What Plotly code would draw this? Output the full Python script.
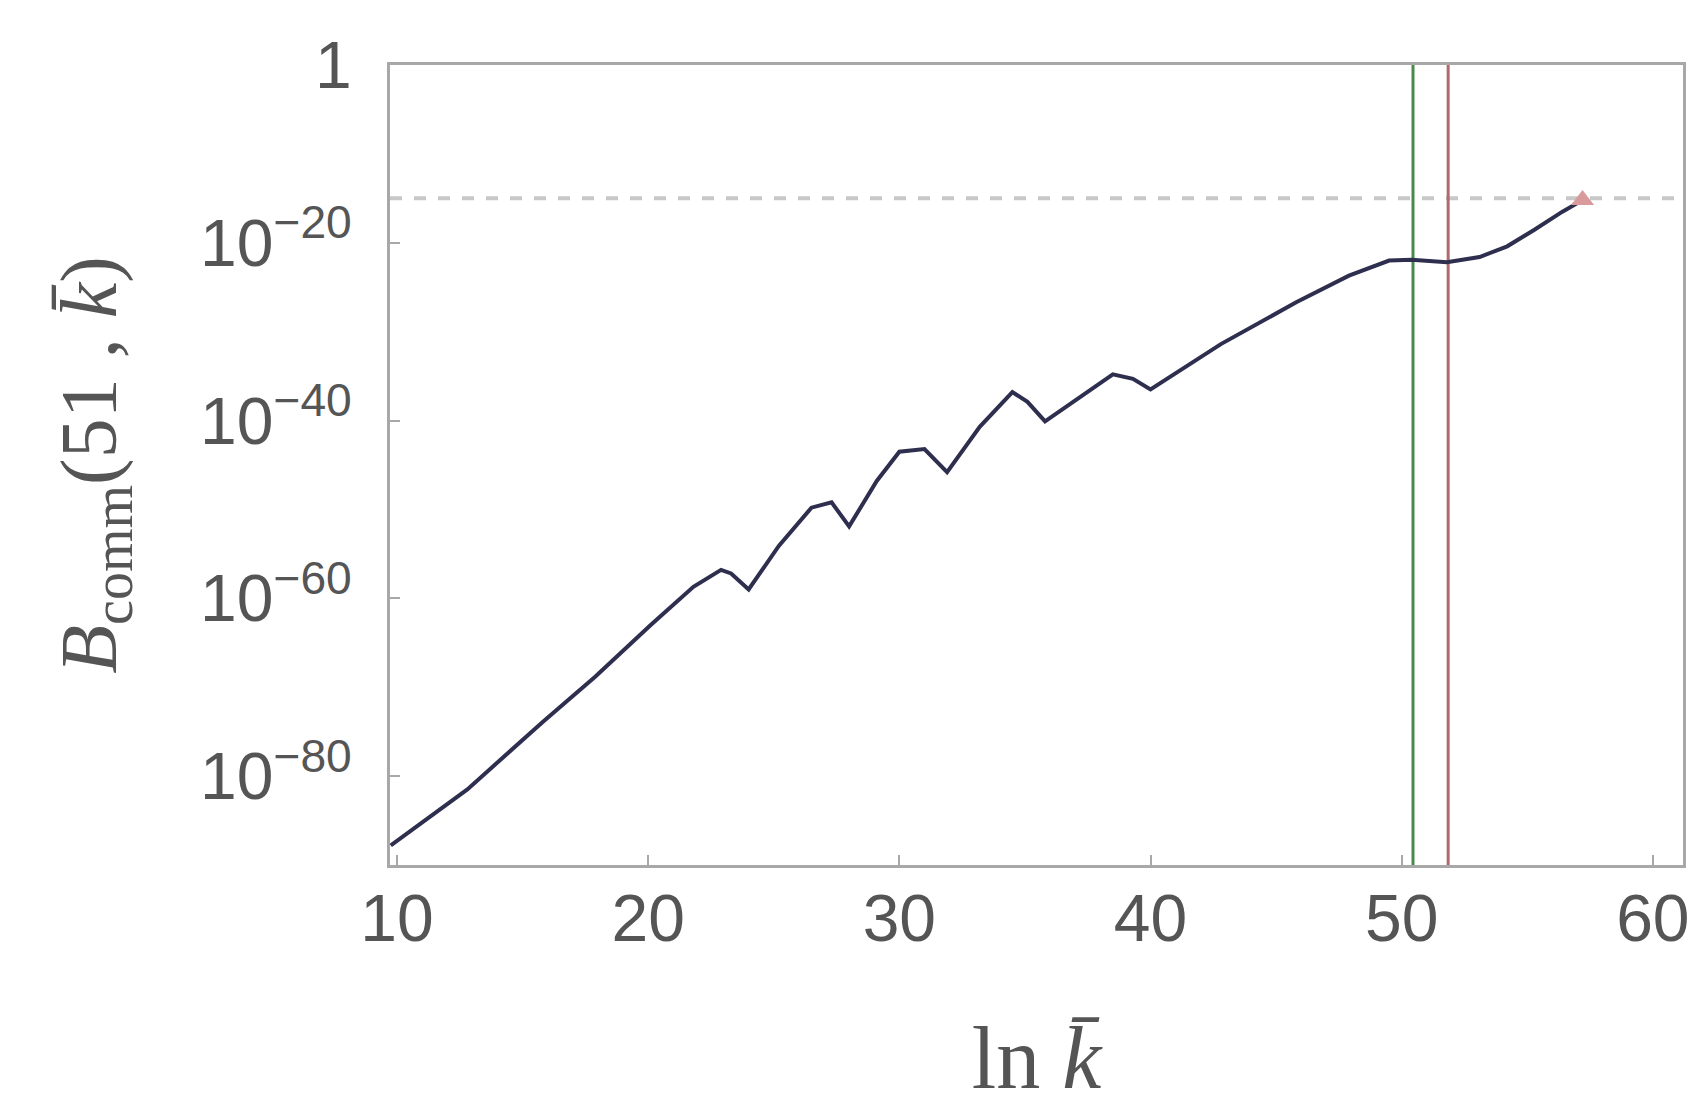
import numpy as np
import plotly.graph_objects as go

# ---- data ----
ln_k = [9.75, 12.8, 15.8, 17.9, 20.1, 21.8, 22.9, 23.3, 24.0, 25.2, 26.5, 27.3, 28.0,
        29.1, 30.0, 31.0, 31.9, 33.2, 34.5, 35.1, 35.8, 37.3, 38.5, 39.3, 40.0, 42.8,
        45.8, 47.9, 49.5, 50.4, 51.2, 51.8, 53.1, 54.2, 55.3, 56.4, 57.2]
log10_B = [-87.8, -81.5, -73.9, -68.8, -63.0, -58.7, -56.8, -57.2, -59.0, -54.1, -49.8, -49.2, -51.9,
           -46.8, -43.5, -43.2, -45.8, -40.7, -36.8, -37.9, -40.1, -37.1, -34.8, -35.3, -36.5, -31.4,
           -26.7, -23.7, -22.0, -21.9, -22.1, -22.2, -21.6, -20.4, -18.5, -16.5, -15.2]
B_comm = [10.0 ** v for v in log10_B]

end_point_x = [57.2]
end_point_y = [10.0 ** -15.2]

green_line_x = 50.45
red_line_x = 51.85
threshold_y = 1e-15

y_tickvals = [1e-80, 1e-60, 1e-40, 1e-20, 1.0]
y_ticktext = ["10<sup>−80</sup>", "10<sup>−60</sup>", "10<sup>−40</sup>", "10<sup>−20</sup>", "1"]
x_tickvals = [10, 20, 30, 40, 50, 60]
x_ticktext = ["10", "20", "30", "40", "50", "60"]

x_range = [9.72, 61.2]
y_range_log = [-90, 0]

# ---- figure ----
fig = go.Figure()

fig.add_trace(go.Scatter(x=x_range, y=[threshold_y, threshold_y], mode="lines",
                         line=dict(color="#c8c8c8", width=4, dash="dash"),
                         hoverinfo="skip", showlegend=False))
fig.add_trace(go.Scatter(x=[green_line_x, green_line_x], y=[1e-90, 1.0], mode="lines",
                         line=dict(color="#4c8a4c", width=3), showlegend=False))
fig.add_trace(go.Scatter(x=[red_line_x, red_line_x], y=[1e-90, 1.0], mode="lines",
                         line=dict(color="#b06a6a", width=3), showlegend=False))
fig.add_trace(go.Scatter(x=ln_k, y=B_comm, mode="lines",
                         line=dict(color="#2e2e4e", width=4), showlegend=False))
fig.add_trace(go.Scatter(x=end_point_x, y=end_point_y, mode="markers",
                         marker=dict(symbol="triangle-up", size=20, color="#d89a9a"),
                         showlegend=False))

axis_common = dict(showline=True, linecolor="#a8a8a8", linewidth=3, mirror=True,
                   ticks="inside", ticklen=10, tickwidth=2, tickcolor="#a8a8a8",
                   showgrid=False, zeroline=False)

tick_font = dict(family="Liberation Sans Narrow, Liberation Sans, Arial", size=66, color="#555555")
title_font_family = "Liberation Serif, Times New Roman"

fig.update_xaxes(range=x_range, tickvals=x_tickvals, ticktext=x_ticktext,
                 tickfont=tick_font, ticklabelstandoff=-6,
                 title=dict(text="ln <i>k̄</i>", font=dict(family=title_font_family, size=88, color="#555555"),
                            standoff=78),
                 **axis_common)
fig.update_yaxes(type="log", range=y_range_log, tickvals=y_tickvals, ticktext=y_ticktext,
                 tickfont=tick_font, ticklabelstandoff=22,
                 title=dict(text="<i>B</i><sub>comm</sub>(51 , <i>k̄</i>)",
                            font=dict(family=title_font_family, size=80, color="#555555"),
                            standoff=58),
                 **axis_common)

fig.update_layout(width=1701, height=1107,
                  margin=dict(l=390, r=13, t=65, b=242),
                  paper_bgcolor="white", plot_bgcolor="white")

fig.write_html("out.html")
